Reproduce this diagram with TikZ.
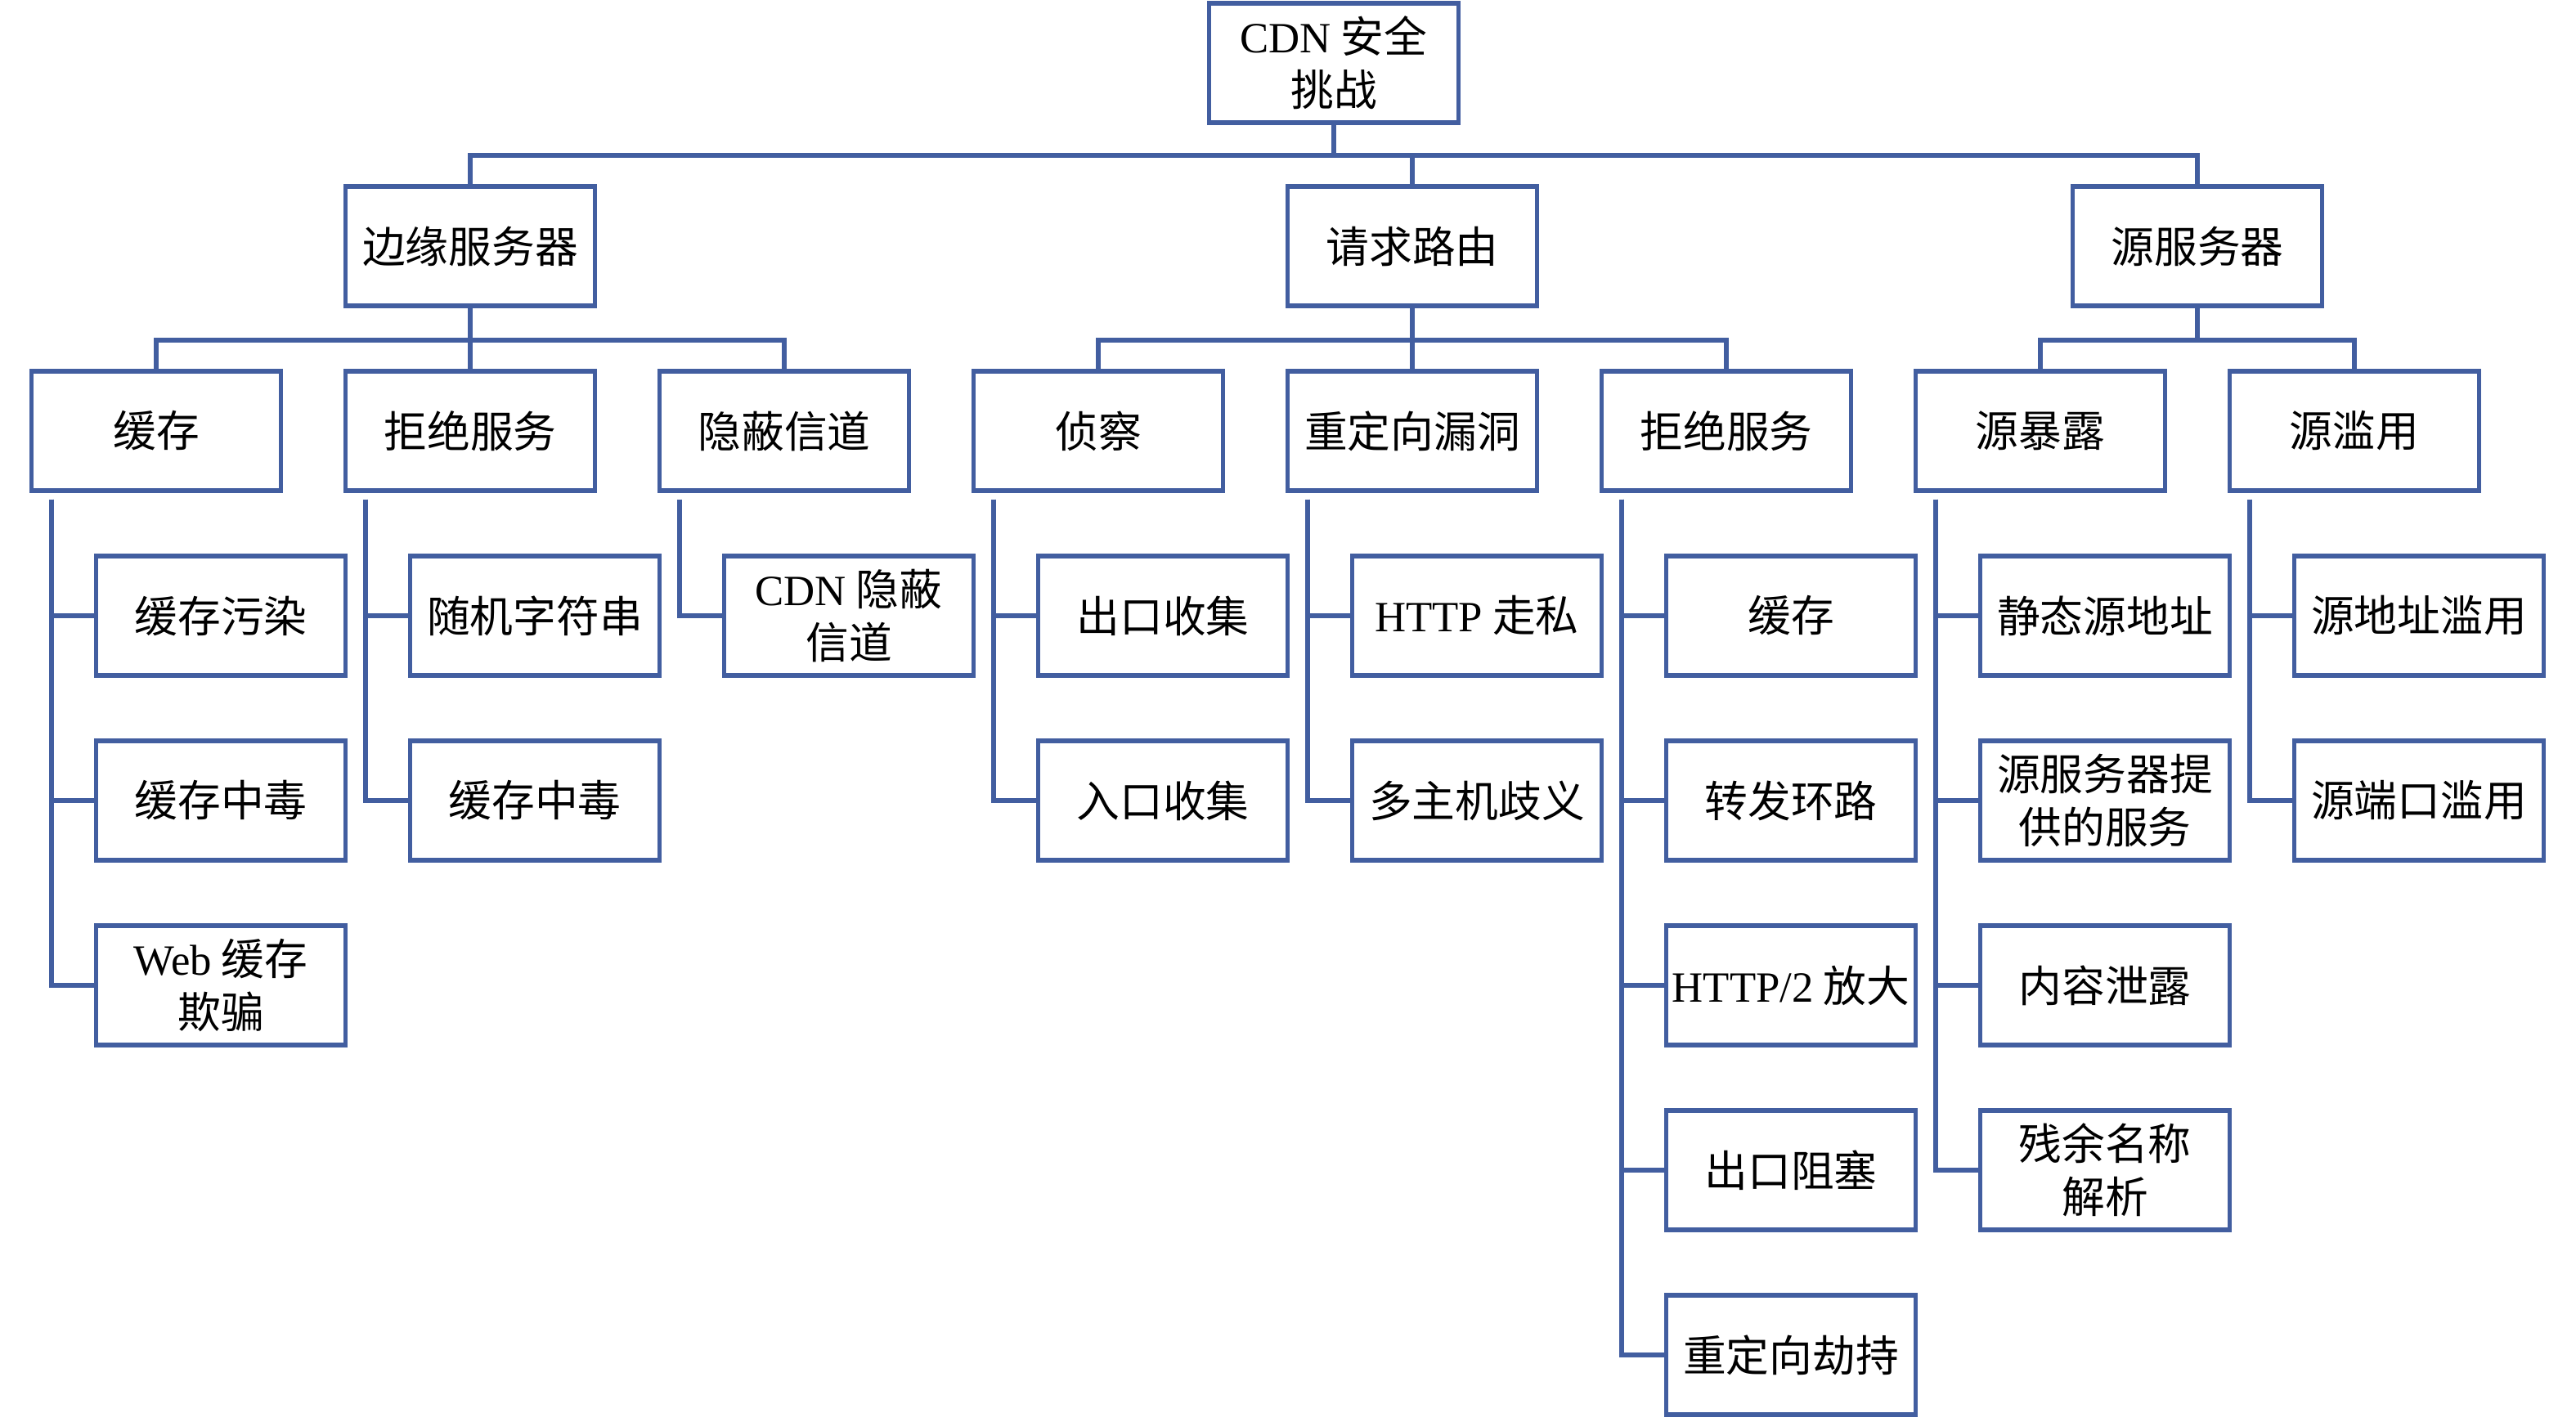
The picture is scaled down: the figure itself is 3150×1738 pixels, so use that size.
\documentclass[tikz,border=0pt]{standalone}
\usepackage{fontspec}
\setmainfont{Liberation Serif}
\newfontfamily\cjk{Noto Sans CJK SC}
\usepackage{tikz}
\definecolor{boxblue}{RGB}{66,94,160}
\newcommand{\lat}[1]{{\rmfamily #1}}
\tikzset{
  box/.style={rectangle, draw=boxblue, line width=1.5pt, minimum width=3.05cm, minimum height=1.46cm,
    inner sep=1pt, align=center, font=\cjk\fontsize{15}{18.5}\selectfont},
  link/.style={draw=boxblue, line width=1.8pt},
}

\begin{document}
\begin{tikzpicture}[x=0.01cm, y=-0.01cm]
\useasboundingbox (0,0) rectangle (3150,1738);
% levels 0 and 1
\node[box] (root) at (1631,77) {\lat{CDN} 安全\\挑战};
\node[box] (edge) at (575,301) {边缘服务器};
\node[box] (route) at (1727,301) {请求路由};
\node[box] (origin) at (2687,301) {源服务器};
% level 2
\node[box] (cache) at (191,527) {缓存};
\node[box] (dosA) at (575,527) {拒绝服务};
\node[box] (covert) at (959,527) {隐蔽信道};
\node[box] (recon) at (1343,527) {侦察};
\node[box] (redir) at (1727,527) {重定向漏洞};
\node[box] (dosB) at (2111,527) {拒绝服务};
\node[box] (expose) at (2495,527) {源暴露};
\node[box] (abuse) at (2879,527) {源滥用};
% level 3
\node[box] (cpoll) at (270,753) {缓存污染};
\node[box] (cpoisA) at (270,979) {缓存中毒};
\node[box] (wcd) at (270,1205) {\lat{Web} 缓存\\欺骗};
\node[box] (rstr) at (654,753) {随机字符串};
\node[box] (cpoisB) at (654,979) {缓存中毒};
\node[box] (cdnch) at (1038,753) {\lat{CDN} 隐蔽\\信道};
\node[box] (egress) at (1422,753) {出口收集};
\node[box] (ingress) at (1422,979) {入口收集};
\node[box] (smug) at (1806,753) {\lat{HTTP} 走私};
\node[box] (hostamb) at (1806,979) {多主机歧义};
\node[box] (dcache) at (2190,753) {缓存};
\node[box] (loop) at (2190,979) {转发环路};
\node[box] (amp) at (2190,1205) {\lat{HTTP/2} 放大};
\node[box] (block) at (2190,1431) {出口阻塞};
\node[box] (hijack) at (2190,1657) {重定向劫持};
\node[box] (staticip) at (2574,753) {静态源地址};
\node[box] (svc) at (2574,979) {源服务器提\\供的服务};
\node[box] (leak) at (2574,1205) {内容泄露};
\node[box] (dangle) at (2574,1431) {残余名称\\解析};
\node[box] (addrab) at (2958,753) {源地址滥用};
\node[box] (portab) at (2958,979) {源端口滥用};
% buses
\coordinate (busA) at (0,190);
\coordinate (busB) at (0,416);
\draw[link] (root.south) -- (root.south |- busA);
\draw[link] (edge.north) |- (origin.north |- busA) -- (origin.north);
\draw[link] (route.north) -- (route.north |- busA);
\draw[link] (edge.south) -- (edge.south |- busB);
\draw[link] (cache.north) |- (covert.north |- busB) -- (covert.north);
\draw[link] (dosA.north) -- (dosA.north |- busB);
\draw[link] (route.south) -- (route.south |- busB);
\draw[link] (recon.north) |- (dosB.north |- busB) -- (dosB.north);
\draw[link] (redir.north) -- (redir.north |- busB);
\draw[link] (origin.south) -- (origin.south |- busB);
\draw[link] (expose.north) |- (abuse.north |- busB) -- (abuse.north);
% trunks
\foreach \p/\c in {cache/cpoll, cache/cpoisA, cache/wcd, dosA/rstr, dosA/cpoisB, covert/cdnch,
  recon/egress, recon/ingress, redir/smug, redir/hostamb, dosB/dcache, dosB/loop, dosB/amp,
  dosB/block, dosB/hijack, expose/staticip, expose/svc, expose/leak, expose/dangle,
  abuse/addrab, abuse/portab}
  \draw[link] ([xshift=0.27cm, yshift=-0.08cm]\p.south west) |- (\c.west);
\end{tikzpicture}
\end{document}
